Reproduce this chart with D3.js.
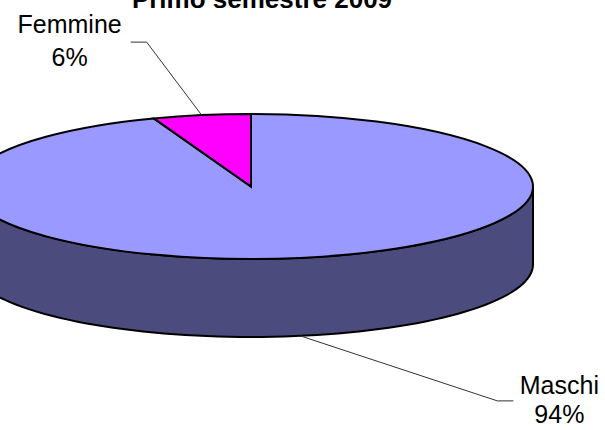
<!DOCTYPE html>
<html>
<head>
<meta charset="utf-8">
<script src="https://cdnjs.cloudflare.com/ajax/libs/d3/7.8.5/d3.min.js"></script>
<style>
  body { margin: 0; background: #fff; }
  text { font-family: "Liberation Sans", Arial, sans-serif; fill: #000; }
</style>
</head>
<body>
<div id="chart"></div>
<script>
// data
var categories = ["Maschi", "Femmine"];
var values = [94.4, 5.6];
var topColors = ["#9999ff", "#ff00ff"];
var sideColors = ["#4b4b7d", "#7f007f"];
var title = "Primo semestre 2009";

var svgWidth = 605;
var svgHeight = 430;

var cx = 251, cy = 186.5;   // centre of the top face
var rx = 282, ry = 72.5;    // ellipse radii
var depth = 78;             // thickness of the pie

var svg = d3.select("#chart")
  .append("svg")
  .attr("width", svgWidth)
  .attr("height", svgHeight);

var pie = d3.pie().sort(null).value(d => d);
var slices = pie(values);
var total = d3.sum(values);

// point on the ellipse for a d3 angle (0 = 12 o'clock, clockwise)
function pt(a, dy) {
  return [cx + rx * Math.sin(a), cy - ry * Math.cos(a) + (dy || 0)];
}

var line = d3.line();

// side walls, only the front half (pi/2 .. 3pi/2) can be seen
slices.forEach(function(s, i) {
  var a0 = Math.max(s.startAngle, Math.PI / 2);
  var a1 = Math.min(s.endAngle, 3 * Math.PI / 2);
  if (a1 <= a0) return;
  var n = 80;
  var top = d3.range(n + 1).map(k => pt(a0 + (a1 - a0) * k / n));
  var bottom = d3.range(n + 1).map(k => pt(a1 - (a1 - a0) * k / n, depth));
  svg.append("path")
    .attr("d", line(top.concat(bottom)) + "Z")
    .attr("fill", sideColors[i])
    .attr("stroke", "#000")
    .attr("stroke-width", 2)
    .attr("stroke-linejoin", "round");
});

// top face: circular d3.arc squashed into an ellipse
var arc = d3.arc().innerRadius(0).outerRadius(rx);
var topGroup = svg.append("g")
  .attr("transform", `translate(${cx},${cy}) scale(1,${ry / rx})`);

topGroup.selectAll("path")
  .data(slices)
  .enter()
  .append("path")
  .attr("d", arc)
  .attr("fill", (d, i) => topColors[i])
  .attr("stroke", "#000")
  .attr("stroke-width", 2)
  .attr("stroke-linejoin", "miter")
  .attr("vector-effect", "non-scaling-stroke");

// labels with leader lines
var labelLayout = [
  { dx: 197, dy: 65, hx: 16, onBottom: true, gap: 29 },   // Maschi
  { dx: -55, dy: -73, hx: -16, onBottom: false, gap: 33 } // Femmine
];

slices.forEach(function(s, i) {
  var mid = (s.startAngle + s.endAngle) / 2;
  var L = labelLayout[i];
  var p0 = pt(mid, L.onBottom ? depth : 0);
  var p1 = [p0[0] + L.dx, p0[1] + L.dy];
  var p2 = [p1[0] + L.hx, p1[1]];
  svg.append("path")
    .attr("d", line([p0, p1, p2]))
    .attr("fill", "none")
    .attr("stroke", "#333")
    .attr("stroke-width", 1);

  var tx = L.hx > 0 ? p2[0] + 46 : p2[0] - 61;
  var ty = L.onBottom ? p2[1] - 7 : p2[1] - 9;
  var lbl = svg.append("text")
    .attr("x", tx)
    .attr("y", ty)
    .attr("text-anchor", "middle")
    .style("font-size", "25px");
  lbl.append("tspan").attr("x", tx).attr("dy", 0).text(categories[i]);
  lbl.append("tspan").attr("x", tx).attr("dy", L.gap)
    .text(Math.round(s.value / total * 100) + "%");
});

// title, cut by the top edge as in the picture
svg.append("text")
  .attr("x", 262)
  .attr("y", 7.5)
  .attr("text-anchor", "middle")
  .style("font-size", "26px")
  .style("font-weight", "bold")
  .text(title);
</script>
</body>
</html>
